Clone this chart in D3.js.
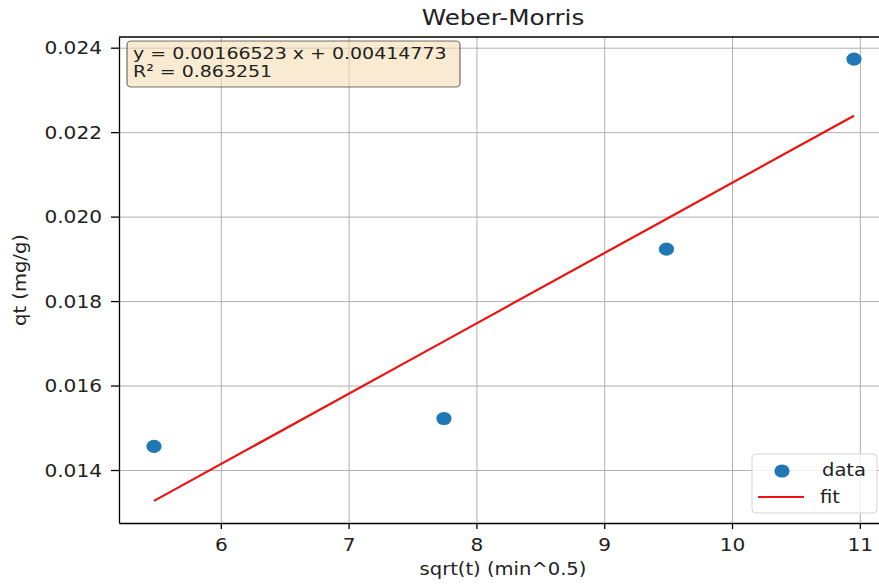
<!DOCTYPE html>
<html><head><meta charset="utf-8">
<script src="https://cdn.jsdelivr.net/npm/d3@7/dist/d3.min.js"></script>
<style>body{margin:0;background:#fff}svg{display:block}text{font-family:"DejaVu Sans",sans-serif;fill:#222}</style>
</head><body>
<script>
const timesMin = [30, 60, 90, 120];
const sqrtT = timesMin.map(Math.sqrt);
const qt = [0.01456, 0.01522, 0.01923, 0.02373];
const slope = 0.00166523, intercept = 0.00414773, r2 = 0.863251;
const xTicks = [6, 7, 8, 9, 10, 11];
const yTicks = [0.014, 0.016, 0.018, 0.020, 0.022, 0.024];
const eqLines = ["y = 0.00166523 x + 0.00414773", "R\u00b2 = 0.863251"];
const legendLabels = ["data", "fit"];

const W = 879, H = 586, SX = 1.15;
const L = 119, R = 889, T = 37, B = 523;
const fitY = sqrtT.map(x => slope * x + intercept);
const xe = d3.extent(sqrtT), xm = (xe[1] - xe[0]) * 0.05;
const allY = qt.concat(fitY), ye = d3.extent(allY), ym = (ye[1] - ye[0]) * 0.05;
const x = d3.scaleLinear().domain([xe[0] - xm, xe[1] + xm]).range([L, R]);
const y = d3.scaleLinear().domain([ye[0] - ym, ye[1] + ym]).range([B, T]);

const svg = d3.select("body").append("svg").attr("width", W).attr("height", H);
function txt(g, px, py, s, size, anchor) {
  return g.append("text").attr("transform", `translate(${px},${py}) scale(${SX},1)`)
    .attr("text-anchor", anchor || "start").style("font-size", size + "px").text(s);
}
// grid
svg.append("g").attr("transform", `translate(0,${B})`)
  .call(d3.axisBottom(x).tickValues(xTicks).tickSize(-(B - T)).tickFormat(""))
  .call(g => { g.select(".domain").remove(); g.selectAll("line").attr("stroke", "#b0b0b0").attr("stroke-width", 1); });
svg.append("g").attr("transform", `translate(${L},0)`)
  .call(d3.axisLeft(y).tickValues(yTicks).tickSize(-(R - L)).tickFormat(""))
  .call(g => { g.select(".domain").remove(); g.selectAll("line").attr("stroke", "#b0b0b0").attr("stroke-width", 1); });

// fit line
svg.append("path").datum(sqrtT.map((v, i) => [v, fitY[i]]))
  .attr("d", d3.line().x(d => x(d[0])).y(d => y(d[1])))
  .attr("fill", "none").attr("stroke", "#ee1111").attr("stroke-width", 2.2);
// points
svg.selectAll("ellipse.pt").data(sqrtT).enter().append("ellipse").attr("class", "pt")
  .attr("cx", d => x(d)).attr("cy", (d, i) => y(qt[i])).attr("rx", 7.6).attr("ry", 6.6).attr("fill", "#1f77b4");

// axes
const xa = svg.append("g").attr("transform", `translate(0,${B})`)
  .call(d3.axisBottom(x).tickValues(xTicks).tickSize(6).tickSizeOuter(0).tickFormat(d3.format("d")));
xa.selectAll("text").attr("y", 28).attr("dy", 0).attr("x", 0).attr("transform", `scale(${SX},1)`)
  .style("font-size", "17.5px").style("font-family", "DejaVu Sans");
const ya = svg.append("g").attr("transform", `translate(${L},0)`)
  .call(d3.axisLeft(y).tickValues(yTicks).tickSize(8).tickSizeOuter(0).tickFormat(d3.format(".3f")));
ya.selectAll("text").attr("x", -17 / SX).attr("dy", "0.36em").attr("transform", `scale(${SX},1)`)
  .style("font-size", "17.5px").style("font-family", "DejaVu Sans");
[xa, ya].forEach(g => { g.selectAll("line").attr("stroke", "#000").attr("stroke-width", 1.3); g.select(".domain").attr("stroke", "#000").attr("stroke-width", 1.3); });
svg.append("line").attr("x1", L).attr("x2", R).attr("y1", T).attr("y2", T).attr("stroke", "#000").attr("stroke-width", 1.3);
svg.append("line").attr("x1", R).attr("x2", R).attr("y1", T).attr("y2", B).attr("stroke", "#000").attr("stroke-width", 1.3);

// equation box
svg.append("rect").attr("x", 127).attr("y", 41).attr("width", 333).attr("height", 46).attr("rx", 4)
  .attr("fill", "rgba(245,222,179,0.6)").attr("stroke", "rgba(0,0,0,0.55)").attr("stroke-width", 1.2);
eqLines.forEach((s, i) => txt(svg, 133, 59 + i * 18, s, 16.5));

// legend
svg.append("rect").attr("x", 752).attr("y", 454).attr("width", 125).attr("height", 59).attr("rx", 4)
  .attr("fill", "rgba(255,255,255,0.8)").attr("stroke", "#d5d5d5").attr("stroke-width", 1);
svg.append("ellipse").attr("cx", 782).attr("cy", 471).attr("rx", 7.6).attr("ry", 6.6).attr("fill", "#1f77b4");
svg.append("line").attr("x1", 758).attr("x2", 804).attr("y1", 497).attr("y2", 497).attr("stroke", "#ee1111").attr("stroke-width", 2.2);
txt(svg, 822, 476, legendLabels[0], 17);
txt(svg, 820, 503, legendLabels[1], 17);

// titles
txt(svg, 503, 25, "Weber-Morris", 21.5, "middle");
txt(svg, 503, 575, "sqrt(t) (min^0.5)", 17, "middle");
svg.append("text").attr("transform", `translate(26,280) rotate(-90) scale(${SX},1)`)
  .attr("text-anchor", "middle").style("font-size", "17px").text("qt (mg/g)");
</script>
</body></html>
